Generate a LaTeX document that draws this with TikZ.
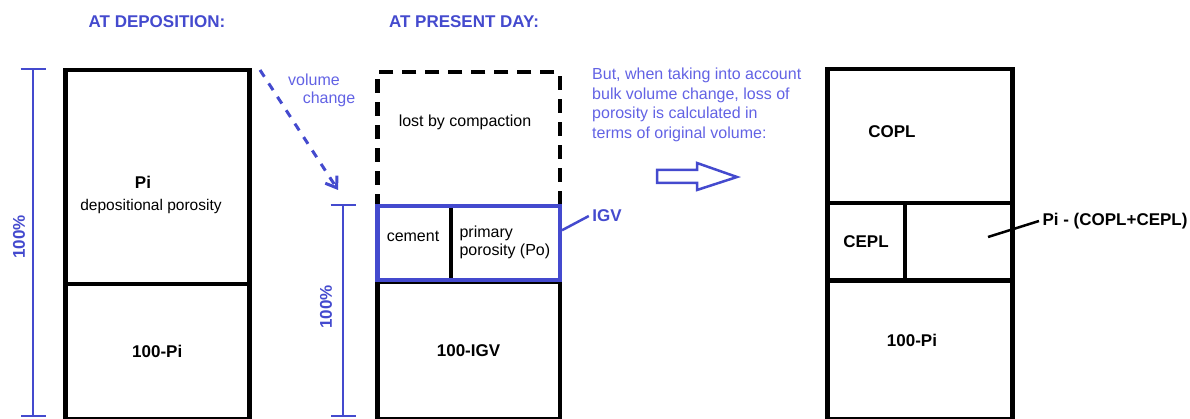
\documentclass[tikz,border=0pt]{standalone}
\usepackage{fontspec}
\setmainfont{Liberation Sans}
\definecolor{main}{RGB}{68,74,206}
\definecolor{second}{RGB}{98,98,228}
\usepackage{tikz}
\usetikzlibrary{
	arrows.meta,
	positioning
}
\tikzset{
  % text
	csttext/.style   ={font=\fontsize{16}{19.5}\selectfont},
	csttitle/.style  ={font=\fontsize{17}{20}\selectfont\bfseries},
  % cells
	cstcell/.style   ={draw=black,line width=4.5pt,inner sep=0pt,anchor=north west,csttitle},
	cstcelld/.style  ={cstcell,dash pattern=on 14pt off 9pt},
	cstcellb/.style  ={cstcell,draw=main,line width=4.5pt},
  % lines
	cstdim/.style    ={main,line width=2.5pt,{Bar[width=25pt]}-{Bar[width=25pt]}},
	cstvol/.style    ={main,line width=3pt,dash pattern=on 8pt off 8pt,-{Straight Barb[length=10pt,width=14pt]}},
	cstlead/.style   ={line width=2.5pt},
	cstbig/.style    ={main,line width=2.5pt,line join=miter}
}

\begin{document}
\begin{tikzpicture}[x=1pt,y=-1pt]
	\useasboundingbox (0,0) rectangle (1190,419);
	% titles
	\node[csttitle,text=main] (titledep) at (157,22) {AT DEPOSITION:};
	\node[csttitle,text=main] (titlenow) at (464,22) {AT PRESENT DAY:};
	% at deposition
	\node[cstcell,minimum width=184pt,minimum height=214pt] (pi) at (63,68) {};
	\node[cstcell,minimum width=184pt,minimum height=135pt] (solidd) at (63,282) {100-Pi};
	\node[csttitle] (pilabel) at (143,182) {Pi};
	\node[csttext,font=\fontsize{15.5}{18}\selectfont] (pidesc) at (151,206) {depositional porosity};
	\coordinate (dimatop) at (33,68);
	\coordinate (dimabot) at (33,417);
	\draw[cstdim] (dimatop) -- (dimabot);
	\node[csttitle,text=main,rotate=90] (pcta) at (19,237) {100\%};
	% volume change
	\coordinate (volstart) at (260,70);
	\coordinate (volend) at (338,190);
	\draw[cstvol] (volstart) -- (volend);
	\node[csttext,text=second] (vollabel) at (314,80) {volume};
	\node[csttext,text=second] (chglabel) at (329,99) {change};
	% at present day
	\node[cstcelld,minimum width=182.5pt,minimum height=134pt] (lost) at (375,70) {};
	\node[csttext] (lostlabel) at (465,122) {lost by compaction};
	\node[cstcell,minimum width=182.5pt,minimum height=137pt] (solidm) at (375,280) {100-IGV};
	\coordinate (divtop) at (451,204);
	\coordinate (divbot) at (451,278);
	\draw[line width=4.5pt] (divtop) -- (divbot);
	\node[cstcellb,minimum width=182.5pt,minimum height=74pt] (igv) at (375,204) {};
	\node[csttext] (cement) at (413,236) {cement};
	\node[csttext,anchor=west,align=left,font=\fontsize{16}{18}\selectfont] (po) at (456,242) {primary\\porosity (Po)};
	\node[csttitle,text=main] (igvlabel) at (607,216) {IGV};
	\draw[cstlead,main] (igvlabel.west) -- ([yshift=13pt]igv.east);
	\coordinate (dimbtop) at (343,204);
	\coordinate (dimbbot) at (343,417);
	\draw[cstdim] (dimbtop) -- (dimbbot);
	\node[csttitle,text=main,rotate=90] (pctb) at (326,307) {100\%};
	% note
	\node[csttext,text=second,anchor=north west,align=left,inner sep=0pt] (note) at (592,68)
		{But, when taking into account\\bulk volume change, loss of\\porosity is calculated in\\terms of original volume:};
	\draw[cstbig] (657,170) -- (697,170) -- (697,163) -- (737,177) -- (697,190) -- (697,183) -- (657,183) -- cycle;
	% original volume
	\node[cstcell,minimum width=185pt,minimum height=134pt] (copl) at (825,67) {};
	\node[cstcell,minimum width=77.5pt,minimum height=77.5pt] (cepl) at (825,201) {CEPL};
	\node[cstcell,minimum width=107.5pt,minimum height=77.5pt] (remain) at (902.5,201) {};
	\node[cstcell,minimum width=185pt,minimum height=138.5pt] (solidr) at (825,278.5) {};
	\node[csttitle] (copllabel) at (892,132) {COPL};
	\node[csttitle] (solidrlabel) at (912,340) {100-Pi};
	\node[csttitle] (remainlabel) at (1115,221) {Pi - (COPL+CEPL)};
	\coordinate (remainpt) at (988,237);
	\draw[cstlead] (remainpt) -- (remainlabel.west);
\end{tikzpicture}
\end{document}
